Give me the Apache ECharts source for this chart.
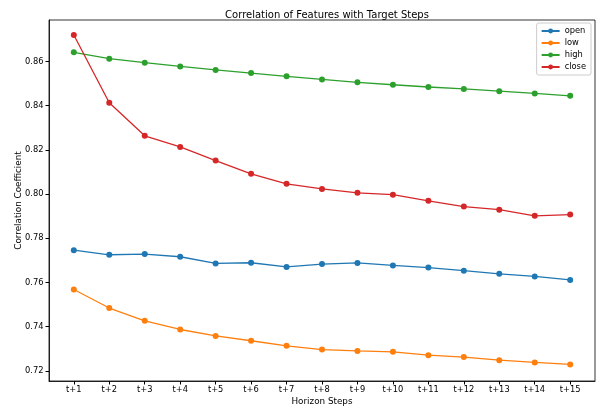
<!DOCTYPE html>
<html>
<head>
<meta charset="utf-8">
<script src="https://cdn.jsdelivr.net/npm/echarts@6/dist/echarts.min.js"></script>
<style>
  html, body { margin: 0; padding: 0; background: #fff; }
  #chart { width: 596px; height: 412px; }
</style>
</head>
<body>
<div id="chart"></div>
<script>
const steps = ["t+1", "t+2", "t+3", "t+4", "t+5", "t+6", "t+7", "t+8", "t+9", "t+10", "t+11", "t+12", "t+13", "t+14", "t+15"];
const openVals = [0.7746, 0.7725, 0.7728, 0.7716, 0.7686, 0.7689, 0.7670, 0.7683, 0.7688, 0.7677, 0.7667, 0.7653, 0.7639, 0.7627, 0.7611];
const lowVals = [0.7568, 0.7484, 0.7426, 0.7387, 0.7358, 0.7336, 0.7313, 0.7296, 0.7290, 0.7286, 0.7271, 0.7262, 0.7248, 0.7238, 0.7229];
const highVals = [0.8641, 0.8612, 0.8594, 0.8577, 0.8561, 0.8547, 0.8532, 0.8518, 0.8505, 0.8494, 0.8484, 0.8475, 0.8465, 0.8455, 0.8444];
const closeVals = [0.8719, 0.8413, 0.8263, 0.8213, 0.8151, 0.8091, 0.8046, 0.8023, 0.8005, 0.7997, 0.7969, 0.7943, 0.7929, 0.7901, 0.7907];
const yTicks = [0.72, 0.74, 0.76, 0.78, 0.80, 0.82, 0.84, 0.86];

const chart = echarts.init(document.getElementById("chart"));

function makeSeries(name, values, color) {
    return {
        name: name,
        type: "line",
        data: values.map((v, i) => [i, v]),
        symbol: "circle",
        symbolSize: 6,
        showSymbol: true,
        lineStyle: { color: color, width: 1.3 },
        itemStyle: { color: color },
        animation: false
    };
}

const option = {
    backgroundColor: "#fff",
    textStyle: { fontFamily: "DejaVu Sans" },
    title: {
        text: "Correlation of Features with Target Steps",
        left: 322,
        textAlign: "center",
        top: 5,
        textStyle: { fontSize: 10, fontWeight: "normal", color: "#000", fontFamily: "DejaVu Sans" }
    },
    legend: {
        orient: "vertical",
        right: 5,
        top: 23,
        itemWidth: 18,
        itemHeight: 6,
        itemGap: 4,
        padding: [4, 5, 4, 4],
        backgroundColor: "#fff",
        borderColor: "#cccccc",
        borderWidth: 1,
        borderRadius: 2,
        textStyle: { fontSize: 8.3, color: "#000", fontFamily: "DejaVu Sans" },
        data: ["open", "low", "high", "close"]
    },
    grid: {
        left: 49,
        right: 1,
        top: 20,
        bottom: 31,
        outerBoundsMode: "none",
        show: true,
        borderColor: "#000",
        borderWidth: 0.8
    },
    xAxis: {
        type: "value",
        min: -0.7,
        max: 14.7,
        name: "Horizon Steps",
        nameLocation: "middle",
        nameGap: 16,
        nameMoveOverlap: false,
        nameTextStyle: { fontSize: 8.8, color: "#000", fontFamily: "DejaVu Sans" },
        axisLine: { show: true, onZero: false, lineStyle: { color: "#000", width: 0.8 } },
        axisTick: { show: true, length: 3.5, customValues: steps.map((s, i) => i), lineStyle: { color: "#000" } },
        axisLabel: {
            customValues: steps.map((s, i) => i),
            formatter: v => steps[Math.round(v)],
            fontSize: 8.3,
            color: "#000",
            fontFamily: "DejaVu Sans",
            margin: 5
        },
        splitLine: { show: false }
    },
    yAxis: {
        type: "value",
        min: 0.7154,
        max: 0.8787,
        name: "Correlation Coefficient",
        nameLocation: "middle",
        nameGap: 26,
        nameMoveOverlap: false,
        nameTextStyle: { fontSize: 8.8, color: "#000", fontFamily: "DejaVu Sans" },
        axisLine: { show: true, onZero: false, lineStyle: { color: "#000", width: 0.8 } },
        axisTick: { show: true, length: 3.5, customValues: yTicks, lineStyle: { color: "#000" } },
        axisLabel: {
            customValues: yTicks,
            formatter: v => v.toFixed(2),
            fontSize: 8.3,
            color: "#000",
            fontFamily: "DejaVu Sans",
            margin: 5.5
        },
        splitLine: { show: false }
    },
    series: [
        makeSeries("open", openVals, "#1f77b4"),
        makeSeries("low", lowVals, "#ff7f0e"),
        makeSeries("high", highVals, "#2ca02c"),
        makeSeries("close", closeVals, "#d62728")
    ]
};

chart.setOption(option);
</script>
</body>
</html>
